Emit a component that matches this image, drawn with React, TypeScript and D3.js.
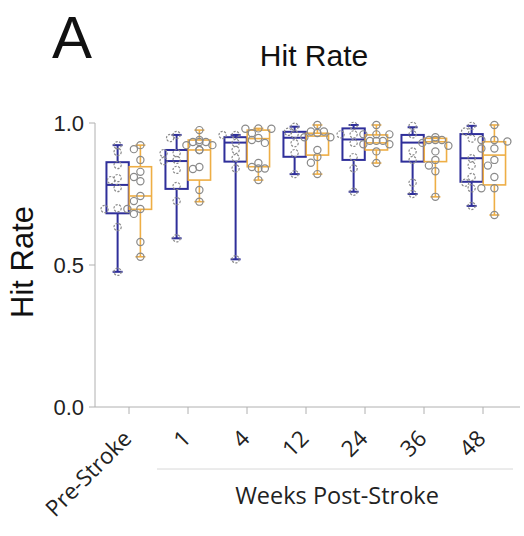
import React from "react";
import * as d3 from "d3";

const categories = ["Pre-Stroke", "1", "4", "12", "24", "36", "48"];
const seriesNames = ["blue", "orange"];
const yTicks = [0.0, 0.5, 1.0];

// box stats [min, q1, median, q3, max]
const blueStats = [
  [0.476, 0.682, 0.782, 0.862, 0.922],
  [0.594, 0.768, 0.866, 0.905, 0.958],
  [0.52, 0.864, 0.931, 0.95, 0.958],
  [0.82, 0.881, 0.948, 0.969, 0.987],
  [0.758, 0.87, 0.942, 0.981, 0.993],
  [0.75, 0.864, 0.931, 0.958, 0.985],
  [0.708, 0.793, 0.876, 0.961, 0.99],
];
const orangeStats = [
  [0.529, 0.696, 0.743, 0.846, 0.922],
  [0.723, 0.799, 0.905, 0.94, 0.975],
  [0.799, 0.846, 0.945, 0.975, 0.981],
  [0.82, 0.887, 0.954, 0.964, 0.993],
  [0.859, 0.905, 0.93, 0.958, 0.993],
  [0.74, 0.864, 0.934, 0.946, 0.95],
  [0.676, 0.782, 0.887, 0.934, 0.993],
];
const bluePoints = [
  [0.922, 0.898, 0.852, 0.806, 0.799, 0.771, 0.697, 0.7, 0.634, 0.476],
  [0.958, 0.947, 0.894, 0.894, 0.866, 0.87, 0.835, 0.778, 0.725, 0.594],
  [0.958, 0.958, 0.93, 0.905, 0.877, 0.84, 0.52],
  [0.987, 0.969, 0.96, 0.929, 0.894, 0.82],
  [0.99, 0.96, 0.96, 0.93, 0.88, 0.84, 0.758],
  [0.99, 0.96, 0.9, 0.87, 0.79, 0.75],
  [0.99, 0.97, 0.945, 0.876, 0.85, 0.81, 0.79, 0.77, 0.708],
];
const orangePoints = [
  [0.922, 0.908, 0.87, 0.828, 0.81, 0.795, 0.743, 0.725, 0.697, 0.697, 0.68, 0.581, 0.529],
  [0.975, 0.94, 0.933, 0.933, 0.933, 0.922, 0.922, 0.905, 0.905, 0.845, 0.838, 0.764, 0.723],
  [0.981, 0.98, 0.98, 0.964, 0.947, 0.94, 0.93, 0.859, 0.84, 0.84, 0.845, 0.799],
  [0.993, 0.97, 0.97, 0.965, 0.95, 0.95, 0.905, 0.88, 0.86, 0.82],
  [0.993, 0.96, 0.96, 0.96, 0.937, 0.937, 0.937, 0.925, 0.925, 0.9, 0.859],
  [0.95, 0.94, 0.94, 0.94, 0.93, 0.92, 0.9, 0.87, 0.85, 0.83, 0.74],
  [0.993, 0.94, 0.94, 0.935, 0.91, 0.91, 0.87, 0.85, 0.81, 0.77, 0.77, 0.676],
];

const BLUE = "#2f2f9a";
const ORANGE = "#eeae45";
const PT = "#8a8a8a";
const AXIS = "#b0b0b0";

function dodge(vals: number[], y: (v: number) => number, r: number) {
  const sorted = vals.map((v, i) => ({ v, i })).sort((a, b) => b.v - a.v);
  const placed: { x: number; y: number; v: number }[] = [];
  const offs = [0, -6.5, 6.5, -13, 13];
  for (const p of sorted) {
    const py = y(p.v);
    let chosen = 0;
    for (const o of offs) {
      if (placed.every((q) => Math.hypot(q.x - o, q.y - py) >= 2 * r - 0.5)) {
        chosen = o;
        break;
      }
    }
    placed.push({ x: chosen, y: py, v: p.v });
  }
  return placed;
}

export default function App() {
  const W = 524, H = 536;
  const x = d3.scalePoint<string>().domain(categories).range([129, 483]);
  const y = d3.scaleLinear().domain([0, 1]).range([407, 123]);
  const sub = d3.scaleBand<string>().domain(seriesNames).range([-23, 23]).padding(0.02);
  const bw = sub.bandwidth();
  const r = 3.6;

  const renderBox = (stats: number[], pts: number[], cx: number, color: string, dashed: boolean, sw: number, key: string) => {
    const [mn, q1, md, q3, mx] = stats;
    const placed = dodge(pts, y, r);
    return (
      <g key={key}>
        <line x1={cx} x2={cx} y1={y(mx)} y2={y(q3)} stroke={color} strokeWidth={sw} />
        <line x1={cx} x2={cx} y1={y(q1)} y2={y(mn)} stroke={color} strokeWidth={sw} />
        <line x1={cx - 5} x2={cx + 5} y1={y(mx)} y2={y(mx)} stroke={color} strokeWidth={sw} />
        <line x1={cx - 5} x2={cx + 5} y1={y(mn)} y2={y(mn)} stroke={color} strokeWidth={sw} />
        <rect x={cx - bw / 2} y={y(q3)} width={bw} height={y(q1) - y(q3)} fill="none" stroke={color} strokeWidth={sw} />
        <line x1={cx - bw / 2} x2={cx + bw / 2} y1={y(md)} y2={y(md)} stroke={color} strokeWidth={sw} />
        {placed.map((p, i) => (
          <circle key={i} cx={cx + p.x} cy={p.y} r={r} fill="none" stroke={PT} strokeWidth={1.2}
            strokeDasharray={dashed ? "2.2 1.4" : undefined} />
        ))}
      </g>
    );
  };

  return (
    <svg width={W} height={H} style={{ position: "absolute", left: 0, top: 0 }}>
      <rect width={W} height={H} fill="#fff" />
      <text x={52} y={58} fontFamily="Liberation Sans, Arial, sans-serif" fontSize={60} fill="#111">A</text>
      <text x={314} y={66} textAnchor="middle" fontFamily="Liberation Sans, Arial, sans-serif" fontSize={30} fill="#111">Hit Rate</text>
      <text transform="translate(33,262) rotate(-90)" textAnchor="middle" fontFamily="Liberation Sans, Arial, sans-serif" fontSize={31} fill="#111">Hit Rate</text>

      {/* y axis */}
      <line x1={95} x2={95} y1={y(1)} y2={y(0)} stroke={AXIS} strokeWidth={1} />
      {yTicks.map((t) => (
        <g key={t}>
          <line x1={89} x2={95} y1={y(t)} y2={y(t)} stroke={AXIS} />
          <text x={84} y={y(t)} dy="0.36em" textAnchor="end" fontFamily="Liberation Sans, Arial, sans-serif" fontSize={22} fill="#222">
            {d3.format(".1f")(t)}
          </text>
        </g>
      ))}
      {/* x axis */}
      <line x1={95} x2={520} y1={y(0)} y2={y(0)} stroke={AXIS} strokeWidth={1} />
      {categories.map((c) => (
        <g key={c}>
          <line x1={x(c)!} x2={x(c)!} y1={y(0)} y2={y(0) + 7} stroke={AXIS} />
          <text transform={`translate(${x(c)! + 4},440) rotate(-45)`} textAnchor="end" fontFamily="Open Sans, sans-serif" fontSize={22.5} fill="#222">
            {c}
          </text>
        </g>
      ))}
      <line x1={157} x2={513} y1={469} y2={469} stroke="#d8d8d8" strokeWidth={1} />
      <text x={337} y={504} textAnchor="middle" fontFamily="Open Sans, sans-serif" fontSize={23.5} fill="#222">Weeks Post-Stroke</text>

      {categories.map((c, i) => (
        <g key={c}>
          {renderBox(blueStats[i], bluePoints[i], x(c)! + sub("blue")! + bw / 2, BLUE, true, 2, "b")}
          {renderBox(orangeStats[i], orangePoints[i], x(c)! + sub("orange")! + bw / 2, ORANGE, false, 1.6, "o")}
        </g>
      ))}
    </svg>
  );
}
